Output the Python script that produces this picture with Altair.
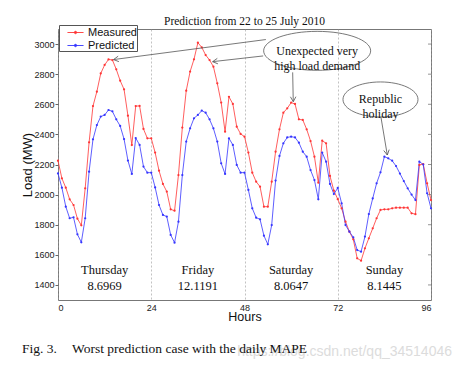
import math
import altair as alt
import pandas as pd

# ---------------- data ----------------
hours = list(range(97))
measured = [
    2225, 2108, 2046, 1969, 1931, 1840, 1796, 2042, 2347, 2588, 2684, 2805, 2861, 2898, 2894, 2832,
    2757, 2699, 2524, 2329, 2588, 2589, 2436, 2374, 2374, 2279, 2159, 2071, 2020, 1902, 1893, 2130,
    2445, 2690, 2817, 2899, 3009, 2978, 2927, 2894, 2850, 2739, 2611, 2418, 2650, 2602, 2451, 2403,
    2385, 2279, 2146, 2086, 2053, 1920, 1920, 2086, 2285, 2434, 2544, 2573, 2611, 2602, 2500, 2496,
    2434, 2356, 2252, 2079, 2358, 2341, 2124, 2026, 1970, 1909, 1820, 1754, 1703, 1577, 1561, 1643,
    1710, 1776, 1843, 1898, 1902, 1902, 1909, 1913, 1913, 1913, 1913, 1876, 1870, 2197, 2203, 2075,
    1964,
]
predicted = [
    2141, 2046, 1920, 1843, 1849, 1736, 1683, 1843, 2152, 2367, 2462, 2518, 2529, 2562, 2553, 2500,
    2456, 2369, 2226, 2137, 2376, 2330, 2186, 2146, 2146, 2048, 1931, 1865, 1854, 1732, 1681, 1820,
    2130, 2352, 2440, 2507, 2529, 2558, 2544, 2500, 2440, 2352, 2208, 2137, 2374, 2330, 2197, 2146,
    2146, 2031, 1909, 1847, 1836, 1727, 1670, 1798, 2093, 2257, 2341, 2380, 2385, 2380, 2345, 2285,
    2252, 2163, 2097, 1969, 2279, 2219, 2071, 2004, 2044, 1942, 1798, 1754, 1716, 1632, 1621, 1721,
    1871, 1975, 2075, 2148, 2252, 2241, 2225, 2190, 2140, 2090, 2042, 2000, 1964, 2219, 2200, 2009,
    1909,
]
series_names = ["Measured", "Predicted"]
series_colors = ["#ff3535", "#3535ff"]

day_names = ["Thursday", "Friday", "Saturday", "Sunday"]
day_mape = ["8.6969", "12.1191", "8.0647", "8.1445"]
day_center_hour = [12, 36, 60, 84]
day_name_load = 1499
day_mape_load = 1393

x_ticks = [0, 24, 48, 72, 96]
y_ticks = [1400, 1600, 1800, 2000, 2200, 2400, 2600, 2800, 3000]

title_text = "Prediction from 22 to 25 July 2010"
caption_fig = "Fig. 3."
caption_text = "Worst prediction case with the daily MAPE"
watermark = "https://blog.csdn.net/qq_34514046"

# annotation ellipses: (hour, load, text)
note1 = {"h": 66.7, "v": 2955, "t": "Unexpected very\nhigh load demand"}
note2 = {"h": 83.0, "v": 2632, "t": "Republic\nholiday"}
# arrows: start (hour, load) -> end (hour, load)
arrow_h1 = [53.5, 52.8, 60.4, 83.1]
arrow_v1 = [3030, 2921, 2812, 2517]
arrow_h2 = [14.3, 39.8, 60.55, 84.75]
arrow_v2 = [2897, 2883, 2617, 2263]

# ---------------- layout ----------------
W, H = 373, 271
X_DOMAIN = [0, 96]
Y_DOMAIN = [1300, 3100]
SERIF = "Liberation Serif"
SANS = "Liberation Sans"

px_per_h = W / (X_DOMAIN[1] - X_DOMAIN[0])
px_per_v = H / (Y_DOMAIN[1] - Y_DOMAIN[0])

df = pd.DataFrame({
    "Hours": hours * 2,
    "Load": measured + predicted,
    "Series": [series_names[0]] * len(hours) + [series_names[1]] * len(hours),
})

angles = []
for a, b, c, d in zip(arrow_h1, arrow_v1, arrow_h2, arrow_v2):
    dx = (c - a) * px_per_h
    dy = -(d - b) * px_per_v
    angles.append((math.degrees(math.atan2(dy, dx)) + 360) % 360)
arrows = pd.DataFrame({"h1": arrow_h1, "v1": arrow_v1, "h2": arrow_h2, "v2": arrow_v2, "ang": angles})

xs = alt.Scale(domain=X_DOMAIN, nice=False, zero=False)
ys = alt.Scale(domain=Y_DOMAIN, nice=False, zero=False)

legend_path = "M-1.15,0L1.15,0M-0.17,0A0.17,0.17,0,1,1,0.17,0A0.17,0.17,0,1,1,-0.17,0"
legend = alt.Legend(
    title=None, orient="none", legendX=1, legendY=-4,
    symbolType=legend_path, symbolSize=196, symbolStrokeWidth=0.9,
    symbolOffset=9, labelOffset=5, padding=0, rowPadding=0,
    labelFont=SANS, labelFontSize=11, labelColor="#111",
    strokeColor="#555", fillColor="white",
)
color = alt.Color("Series:N", scale=alt.Scale(domain=series_names, range=series_colors), legend=legend)

x_enc = alt.X("Hours:Q", scale=xs, axis=alt.Axis(
    values=x_ticks, tickCount=10, title="Hours", grid=True, gridDash=[2, 2], gridColor="#999",
    gridWidth=0.6, tickSize=0, domain=False, labelPadding=3, labelFontSize=9, labelFont=SANS,
    labelColor="#222", titleFont=SANS, titleFontSize=12.5, titleFontWeight="normal", titleY=20,
    titleBaseline="alphabetic", titleColor="#111", labelOverlap=False))
y_enc = alt.Y("Load:Q", scale=ys, axis=alt.Axis(
    values=y_ticks, tickCount=12, format="d", labelOverlap=False, title="Load (MW)", grid=False,
    tickSize=3, tickColor="#666", domain=False,
    labelPadding=1, labelFontSize=9, labelFont=SANS, labelColor="#222",
    titleFont=SANS, titleFontSize=13, titleFontWeight="normal", titleX=-24, titleY=H / 2,
    titleColor="#111"))

base = alt.Chart(df)
lines = base.mark_line(strokeWidth=0.8).encode(x=x_enc, y=y_enc, color=color, order="Hours:Q")
points = base.mark_point(filled=True, size=5, opacity=1).encode(x=x_enc, y=y_enc, color=color)

# inward ticks on the right frame edge
rt = pd.DataFrame({"h": [X_DOMAIN[1]] * len(y_ticks), "v": y_ticks})
right_ticks = alt.Chart(rt).mark_tick(orient="horizontal", size=3, thickness=1, color="#666",
                                      xOffset=-1.5).encode(
    x=alt.X("h:Q", scale=xs), y=alt.Y("v:Q", scale=ys))

days = pd.DataFrame({
    "h": day_center_hour * 2,
    "v": [day_name_load] * 4 + [day_mape_load] * 4,
    "t": day_names + day_mape,
})
day_text = alt.Chart(days).mark_text(font=SERIF, fontSize=12.5, color="#111").encode(
    x=alt.X("h:Q", scale=xs), y=alt.Y("v:Q", scale=ys), text="t:N")

def ellipse(note, width, aspect):
    path = f"M-1,0A1,{aspect},0,1,1,1,0A1,{aspect},0,1,1,-1,0Z"
    d = pd.DataFrame({"h": [note["h"]], "v": [note["v"]], "t": [note["t"]]})
    shape = alt.Chart(d).mark_point(shape=path, size=width * width, filled=False,
                                    stroke="#555", strokeWidth=0.8, opacity=1).encode(
        x=alt.X("h:Q", scale=xs), y=alt.Y("v:Q", scale=ys))
    txt = alt.Chart(d).mark_text(font=SERIF, fontSize=12, color="#111", lineBreak="\n",
                                 lineHeight=15, baseline="middle").encode(
        x=alt.X("h:Q", scale=xs), y=alt.Y("v:Q", scale=ys), text="t:N")
    return shape + txt

ell1 = ellipse(note1, 107, 0.364)
ell2 = ellipse(note2, 75, 0.467)

arrow_lines = alt.Chart(arrows).mark_rule(color="#555", strokeWidth=0.8).encode(
    x=alt.X("h1:Q", scale=xs), y=alt.Y("v1:Q", scale=ys), x2="h2:Q", y2="v2:Q")
arrow_heads = alt.Chart(arrows).mark_point(
    shape="M-1,-0.55L0,0L-1,0.55", size=100, filled=False, stroke="#555",
    strokeWidth=0.8, opacity=1).encode(
    x=alt.X("h2:Q", scale=xs), y=alt.Y("v2:Q", scale=ys), angle=alt.Angle("ang:Q", scale=None))

cap = pd.DataFrame({"a": [caption_fig], "b": [caption_text], "w": [watermark]})
cap1 = alt.Chart(cap).mark_text(font=SERIF, fontSize=13.5, align="left", baseline="alphabetic",
                                color="#111").encode(text="a:N", x=alt.value(-36), y=alt.value(324))
cap2 = alt.Chart(cap).mark_text(font=SERIF, fontSize=13.5, align="left", baseline="alphabetic",
                                color="#111").encode(text="b:N", x=alt.value(14), y=alt.value(324))
wm = alt.Chart(cap).mark_text(font=SANS, fontSize=14, align="right", baseline="alphabetic",
                              color="#dcdcdc").encode(text="w:N", x=alt.value(394), y=alt.value(327))

chart = alt.layer(
    lines, points, right_ticks, day_text, ell1, ell2, arrow_lines, arrow_heads, wm, cap1, cap2
).properties(
    width=W, height=H,
    title=alt.TitleParams(title_text, font=SERIF, fontSize=11.5, fontWeight="normal",
                          anchor="middle", offset=-3, color="#111"),
    padding={"left": 50, "top": 21, "right": 22, "bottom": 60},
    autosize=alt.AutoSizeParams(type="none"),
).configure_view(stroke="#777", strokeWidth=1)

chart.save("out.html", embed_options={"renderer": "svg", "actions": False})
